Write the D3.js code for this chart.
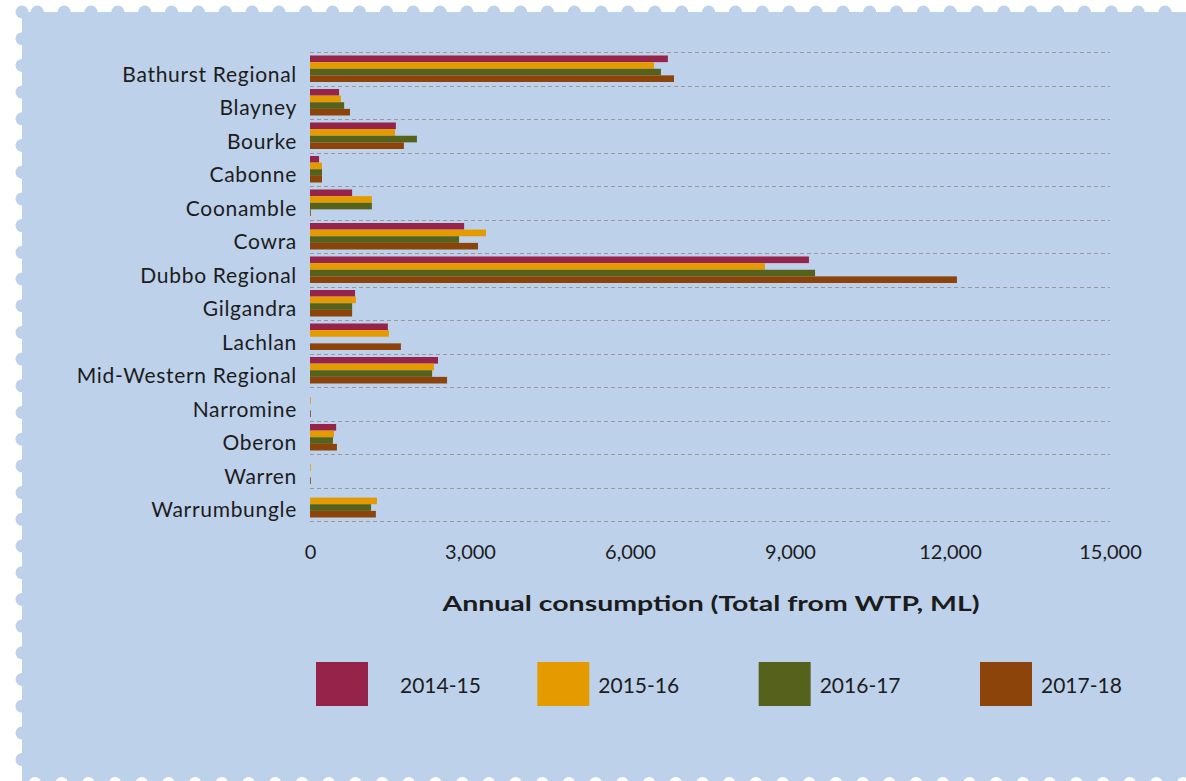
<!DOCTYPE html>
<html lang="en">
<head>
<meta charset="utf-8">
<title>Annual consumption</title>
<script src="https://cdn.jsdelivr.net/npm/d3@7"></script>
<style>
  body { margin: 0; background: #ffffff; }
  svg { display: block; }
  text { font-family: Lato, "Open Sans", sans-serif; fill: #1c1c1c; }
</style>
</head>
<body>
<script>
// data (ML)
var councils = ["Bathurst Regional", "Blayney", "Bourke", "Cabonne", "Coonamble", "Cowra",
  "Dubbo Regional", "Gilgandra", "Lachlan", "Mid-Western Regional", "Narromine", "Oberon",
  "Warren", "Warrumbungle"];
var seasons = ["2014-15", "2015-16", "2016-17", "2017-18"];
var v1415 = [6710, 545, 1610, 170, 790, 2890, 9355, 845, 1460, 2400, 0, 490, 0, 0];
var v1516 = [6450, 580, 1595, 225, 1160, 3300, 8530, 860, 1480, 2325, 15, 450, 15, 1255];
var v1617 = [6580, 640, 2005, 225, 1160, 2795, 9470, 790, 0, 2290, 0, 430, 0, 1145];
var v1718 = [6825, 750, 1760, 225, 15, 3150, 12130, 790, 1705, 2570, 15, 505, 15, 1235];
var xTicks = [0, 3000, 6000, 9000, 12000, 15000];
var colors = ["#95234a", "#e59a00", "#56621c", "#8c440a"];

var W = 1186, H = 781;
var bg = "#bdd1ea";

var svg = d3.select("body").append("svg").attr("width", W).attr("height", H);

// stamp-like panel
var panel = svg.append("g");
panel.append("rect").attr("x", 22).attr("y", 12).attr("width", W - 22).attr("height", H - 12).attr("fill", bg);
panel.selectAll("circle.top").data(d3.range(0, 43)).enter().append("circle")
  .attr("cx", function (k) { return 37.3 + k * 26.85; }).attr("cy", 12).attr("r", 6.5).attr("fill", bg);
panel.selectAll("circle.left").data(d3.range(0, 29)).enter().append("circle")
  .attr("cx", 22).attr("cy", function (k) { return 12 + k * 26.7; }).attr("r", 6.5).attr("fill", bg);
panel.selectAll("circle.bot").data(d3.range(0, 44)).enter().append("circle")
  .attr("cx", function (k) { return 35 + k * 26.7; }).attr("cy", H + 2).attr("r", 6).attr("fill", "#ffffff");

var x = d3.scaleLinear().domain([0, 15000]).range([310, 1110]);
var y0 = d3.scaleBand().domain(councils).range([52, 521]);
var y1 = d3.scaleBand().domain(seasons).range([3.5, y0.bandwidth() - 3.5]);

var series = [v1415, v1516, v1617, v1718];

// dashed separators
var sepY = councils.map(function (c) { return y0(c); }).concat([y0.range()[1]]);
svg.append("g").selectAll("line").data(sepY).enter().append("line")
  .attr("x1", x(0)).attr("x2", x(15000))
  .attr("y1", function (d) { return Math.round(d) + 0.5; })
  .attr("y2", function (d) { return Math.round(d) + 0.5; })
  .attr("stroke", "#999999").attr("stroke-width", 1).attr("stroke-dasharray", "4,3");

// bars
var groups = svg.append("g").selectAll("g").data(councils).enter().append("g")
  .attr("transform", function (c) { return "translate(0," + y0(c) + ")"; });
groups.selectAll("rect").data(function (c, i) {
    return seasons.map(function (s, j) { return { s: s, j: j, v: series[j][i] }; });
  }).enter().append("rect")
  .attr("x", x(0))
  .attr("y", function (d) { return y1(d.s); })
  .attr("width", function (d) { return x(d.v) - x(0); })
  .attr("height", y1.bandwidth())
  .attr("fill", function (d) { return colors[d.j]; });

// category labels
svg.append("g").selectAll("text").data(councils).enter().append("text")
  .attr("x", 297)
  .attr("y", function (c) { return y0(c) + y0.bandwidth() / 2 + 13; })
  .attr("text-anchor", "end")
  .attr("font-size", 21)
  .attr("letter-spacing", 0.7)
  .text(function (c) { return c; });

// x axis
var xAxis = svg.append("g").attr("transform", "translate(0,540)")
  .call(d3.axisBottom(x).tickValues(xTicks).tickSize(0).tickPadding(0).tickFormat(d3.format(",")));
xAxis.select(".domain").remove();
xAxis.selectAll("text").attr("font-size", 20).attr("font-family", "Lato, sans-serif")
  .attr("fill", "#1c1c1c").attr("dy", "0.95em");

svg.append("text")
  .attr("x", 711).attr("y", 611)
  .attr("text-anchor", "middle")
  .attr("font-family", "'DejaVu Sans', sans-serif")
  .attr("font-size", 20).attr("font-weight", "bold")
  .attr("textLength", 537).attr("lengthAdjust", "spacingAndGlyphs")
  .text("Annual consumption (Total from WTP, ML)");

// legend
var lx = d3.scaleLinear().domain([0, 3]).range([316, 980]);
var leg = svg.append("g").selectAll("g").data(seasons).enter().append("g")
  .attr("transform", function (s, i) { return "translate(" + lx(i) + ",662)"; });
leg.append("rect").attr("width", 52).attr("height", 44)
  .attr("fill", function (s, i) { return colors[i]; });
leg.append("text")
  .attr("x", function (s, i) { return i === 0 ? 84 : 61; })
  .attr("y", 31)
  .attr("font-size", 21)
  .text(function (s) { return s; });
</script>
</body>
</html>
